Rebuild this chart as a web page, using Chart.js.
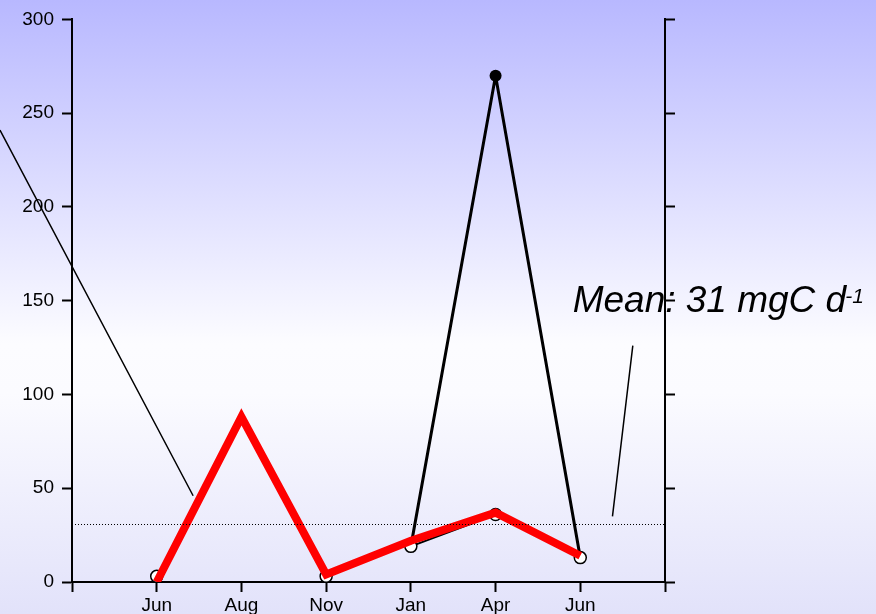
<!DOCTYPE html>
<html>
<head>
<meta charset="utf-8">
<script src="https://cdn.jsdelivr.net/npm/chart.js@4/dist/chart.umd.min.js"></script>
<style>
  html, body { margin: 0; padding: 0; background: #fff; }
  canvas { display: block; }
</style>
</head>
<body>
<canvas id="chart" width="876" height="614"></canvas>
<script>
// Sampling months and production values (mgC d-1)
const months = ["Jun", "Aug", "Nov", "Jan", "Apr", "Jun"];
const redSeries = [0, 88, 4, 22, 37, 14];
const peakSeries = [null, null, null, 19, 270, 13];
const circleSeries = [3, null, 3, 19, 36, 13];
const yTicks = [0, 50, 100, 150, 200, 250, 300];
const meanValue = 31;

// empty slot at each end so the axis runs one step past the first and last month
const labels = ["", ...months, ""];
const pad = arr => [null, ...arr, null];
const janIndex = 4;

const FONT = "'Liberation Sans', Arial, sans-serif";

// Background gradient + the mean label (drawn before the axes so they sit on top)
const backdrop = {
  id: "backdrop",
  beforeDraw(chart) {
    const { ctx, width, height, scales } = chart;
    const g = ctx.createLinearGradient(0, 0, 0, height);
    g.addColorStop(0, "#b8b8ff");
    g.addColorStop(0.56, "#fcfcff");
    g.addColorStop(0.64, "#fbfbff");
    g.addColorStop(1, "#e2e2fa");
    ctx.save();
    ctx.fillStyle = g;
    ctx.fillRect(0, 0, width, height);

    const tx = scales.x.getPixelForValue(5.91);
    const ty = scales.y.getPixelForValue(144);
    ctx.fillStyle = "#000";
    ctx.textBaseline = "alphabetic";
    ctx.textAlign = "left";
    ctx.font = "italic 37px " + FONT;
    const main = "Mean: " + meanValue + " mgC d";
    ctx.fillText(main, tx, ty);
    const w = ctx.measureText(main).width;
    ctx.font = "italic 21px " + FONT;
    ctx.fillText("-1", tx + w - 1, ty - 9);
    ctx.restore();
  },
  afterDatasetsDraw(chart) {
    const { ctx, chartArea, scales } = chart;
    const x = scales.x, y = scales.y;
    ctx.save();
    // dotted mean line
    const my = Math.round(y.getPixelForValue(meanValue)) + 0.5;
    ctx.strokeStyle = "#000";
    ctx.lineWidth = 1;
    ctx.setLineDash([1, 2]);
    ctx.beginPath();
    ctx.moveTo(chartArea.left + 3, my);
    ctx.lineTo(chartArea.right, my);
    ctx.stroke();
    ctx.setLineDash([]);

    // leader lines
    ctx.lineWidth = 1.5;
    ctx.beginPath();
    ctx.moveTo(x.getPixelForValue(-0.85), y.getPixelForValue(241));
    ctx.lineTo(x.getPixelForValue(1.43), y.getPixelForValue(46));
    ctx.moveTo(x.getPixelForValue(6.62), y.getPixelForValue(126));
    ctx.lineTo(x.getPixelForValue(6.38), y.getPixelForValue(35));
    ctx.stroke();
    ctx.restore();
  }
};

const axisGrid = {
  drawOnChartArea: false,
  drawTicks: true,
  tickLength: 10,
  tickWidth: 2,
  tickColor: "#000"
};

new Chart(document.getElementById("chart"), {
  type: "line",
  data: {
    labels: labels,
    datasets: [
      {
        data: pad(redSeries),
        borderColor: "#ff0000",
        borderWidth: 8,
        borderJoinStyle: "miter",
        borderCapStyle: "butt",
        pointRadius: 0,
        tension: 0
      },
      {
        data: pad(circleSeries),
        borderColor: "#000",
        borderWidth: 2,
        segment: {
          borderColor: c => c.p0DataIndex === janIndex ? "#000" : "rgba(0,0,0,0)"
        },
        pointRadius: 6,
        pointBorderWidth: 1.5,
        pointBackgroundColor: "#fff",
        pointBorderColor: "#000",
        tension: 0
      },
      {
        data: pad(peakSeries),
        borderColor: "#000",
        borderWidth: 3,
        borderJoinStyle: "round",
        pointRadius: c => (c.raw !== null && c.raw > 100) ? 6 : 0,
        pointBackgroundColor: "#000",
        pointBorderColor: "#000",
        pointBorderWidth: 0,
        tension: 0
      }
    ]
  },
  options: {
    responsive: false,
    animation: false,
    devicePixelRatio: 1,
    layout: { padding: { top: 19, left: 0, right: 0, bottom: 0 } },
    plugins: { legend: { display: false }, tooltip: { enabled: false } },
    scales: {
      x: {
        type: "category",
        offset: false,
        grid: axisGrid,
        border: { color: "#000", width: 2 },
        ticks: {
          color: "#000",
          font: { family: FONT, size: 19 },
          padding: 2,
          autoSkip: false,
          maxRotation: 0
        },
        afterFit: s => { s.height = 32; }
      },
      y: {
        position: "left",
        min: 0,
        max: 300,
        afterBuildTicks: s => { s.ticks = yTicks.map(v => ({ value: v })); },
        grid: axisGrid,
        border: { color: "#000", width: 2 },
        ticks: {
          color: "#000",
          font: { family: FONT, size: 19 },
          padding: 8
        },
        afterFit: s => { s.width = 72; }
      },
      y2: {
        position: "right",
        min: 0,
        max: 300,
        afterBuildTicks: s => { s.ticks = yTicks.map(v => ({ value: v })); },
        grid: axisGrid,
        border: { color: "#000", width: 2 },
        ticks: { display: false },
        afterFit: s => { s.width = 211; }
      }
    }
  },
  plugins: [backdrop]
});
</script>
</body>
</html>
